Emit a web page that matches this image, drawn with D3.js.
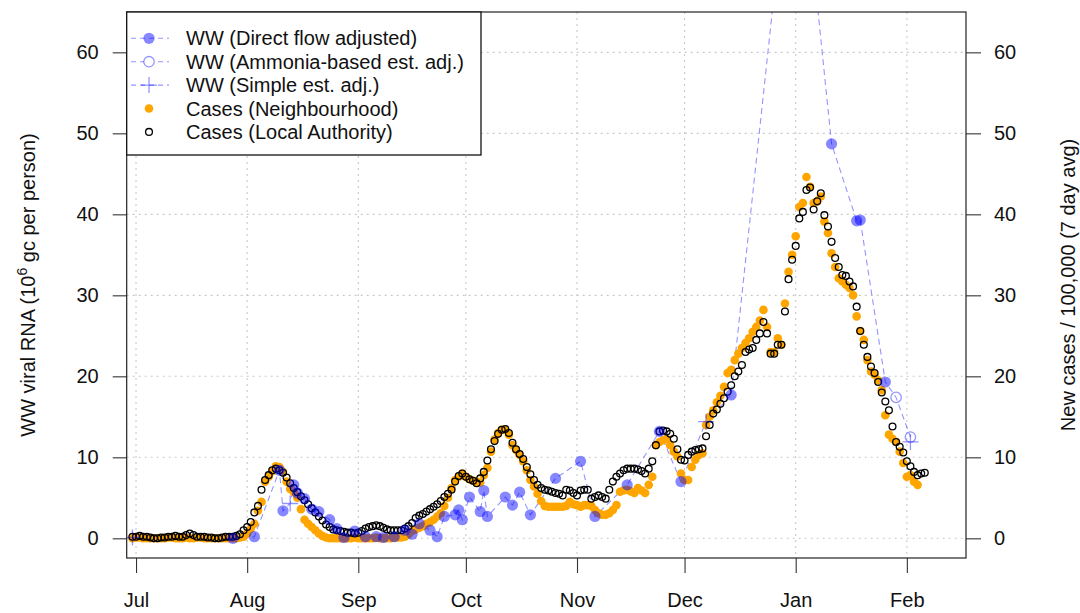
<!DOCTYPE html>
<html>
<head>
<meta charset="utf-8">
<script src="https://cdn.jsdelivr.net/npm/d3@7"></script>
<style>
  body { margin: 0; background: #fff; }
  svg { display: block; }
  text { font-family: "Liberation Sans", Arial, sans-serif; }
</style>
</head>
<body>
<svg id="chart" width="1080" height="613"></svg>
<script>
// ---- Data ---------------------------------------------------------------
// Daily case rates (new cases / 100,000, 7 day avg), first value on caseStart
const caseStart = "2021-06-30";

const casesLocalAuthority = [
  0.2,0.2,0.3,0.2,0.2,0.1,0.0,0.0,0.1,0.1,0.2,0.2,0.3,0.2,0.2,0.4,0.6,0.4,0.2,0.2,0.2,0.1,0.1,0.0,0.0,0.1,0.2,0.2,
  0.2,0.3,0.5,1.0,1.4,2.0,3.2,4.0,6.0,7.2,7.8,8.4,8.6,8.4,8.1,7.5,6.8,6.2,5.7,5.2,4.7,4.2,3.7,3.2,2.7,2.2,1.7,1.4,
  1.1,1.0,0.9,0.8,0.7,0.7,0.6,0.7,0.9,1.2,1.4,1.5,1.6,1.5,1.3,1.1,1.0,1.0,1.0,1.0,
  1.2,1.5,1.9,2.5,2.8,3.0,3.3,3.6,3.9,4.2,4.6,5.1,5.5,6.0,7.0,7.7,8.0,7.6,7.3,7.1,
  6.8,7.4,8.2,9.6,11.0,12.0,12.9,13.4,13.5,13.0,11.8,
  11.0,10.4,9.8,8.8,7.9,7.2,6.6,6.2,6.0,5.9,5.75,5.6,5.5,5.3,
  6.0,5.9,5.6,5.3,5.9,6.0,6.0,4.9,5.1,5.3,5.1,4.9,6.0,7.0,7.6,8.0,8.4,8.6,8.6,8.6,
  8.5,8.3,8.0,8.6,9.5,11.5,13.2,13.3,13.2,12.9,12.3,
  11.0,9.7,9.6,10.3,10.7,10.9,11.0,11.1,12.6,14.0,15.4,15.9,16.6,17.3,18.1,18.9,20.0,20.6,21.4,23.0,
  23.3,23.5,24.5,25.3,26.7,25.3,22.8,22.8,23.9,23.9,
  28.0,32.0,34.4,36.1,39.5,40.3,43.0,43.3,40.6,41.6,42.6,39.9,38.5,36.6,34.6,33.5,32.5,32.4,31.7,31.1,
  28.6,25.6,23.9,22.4,21.2,20.4,19.3,18.0,16.9,15.8,13.8,11.9,11.3,10.6,9.5,8.9,8.2,7.8,8.0,8.1
];

const casesNeighbourhood = [
  0,0.1,0.1,0,0,0,0,0,0,0,0.1,0.1,0,0,0,0.1,0,0,0.1,0.1,0,0,0,0,0,0,0,0,
  0,0,0.1,0.2,0.6,1.2,1.8,3.4,4.5,7.0,7.6,8.3,8.9,8.8,8.2,7.0,6.1,5.7,5.0,3.6,2.3,1.8,1.4,1.0,0.6,0.3,0.1,0.0,
  0,0,0,0,0,0,0.1,0,0,0,0,0,0.1,0,0,0,0,0.1,0.1,0.1,
  0.2,0.5,0.9,1.1,1.3,1.5,1.8,2.0,2.3,2.7,3.1,4.0,5.0,6.2,7.2,7.6,8.0,
  7.6,7.3,7.1,7.0,6.9,7.8,8.7,10.7,12.2,13.0,13.4,13.4,12.8,11.5,10.9,10.3,9.5,8.4,
  7.2,6.4,5.5,4.6,4.0,3.9,3.9,3.9,3.9,3.9,
  4.0,4.5,4.2,4.1,3.9,4.1,4.1,4.0,3.5,3.1,2.9,2.9,3.1,3.5,4.1,5.75,5.9,6.0,5.8,5.6,
  6.2,5.9,5.6,6.6,7.6,11.5,11.9,12.1,12.3,11.5,10.7,
  10.1,8.0,7.2,7.2,8.8,9.7,10.3,10.5,14.0,15.0,15.8,16.8,17.6,18.7,20.4,20.8,22.0,22.8,23.5,24.1,
  24.7,25.5,26.1,26.9,28.2,26.1,23.0,23.0,24.7,23.9,
  29.0,32.9,35.0,37.3,40.9,41.4,44.6,43.4,41.4,41.6,42.2,39.1,37.7,35.2,33.5,32.1,31.7,31.3,30.9,30.0,
  27.4,25.6,24.5,22.0,20.6,20.2,19.5,18.3,15.2,12.8,12.3,11.9,10.7,9.3,7.6,7.8,7.0,6.6
];

// Wastewater viral RNA (10^6 gc per person)
const wwDirectDates = [
  "2021-07-28","2021-08-03","2021-08-10","2021-08-11","2021-08-14","2021-08-15","2021-08-17","2021-08-19",
  "2021-08-21","2021-08-24","2021-08-26","2021-08-28","2021-08-31","2021-09-03","2021-09-06","2021-09-08",
  "2021-09-11","2021-09-14","2021-09-16","2021-09-18","2021-09-21","2021-09-23","2021-09-25","2021-09-28",
  "2021-09-29","2021-09-30","2021-10-02","2021-10-05","2021-10-06","2021-10-07","2021-10-12","2021-10-14",
  "2021-10-16","2021-10-19","2021-10-26","2021-11-02","2021-11-06","2021-11-15","2021-11-24","2021-11-30",
  "2021-12-14","2022-01-01","2022-01-11","2022-01-18","2022-01-19","2022-01-26"
];
const wwDirectValues = [
  0.0,0.2,8.4,3.4,6.6,5.6,4.9,3.6,
  3.3,2.3,1.2,0.1,0.9,0.2,0.2,0.1,
  0.2,1.0,0.5,1.8,1.0,0.2,2.7,2.9,
  3.5,2.3,5.1,3.3,5.9,2.7,5.1,4.1,
  5.7,2.9,7.4,9.5,2.7,6.6,13.2,7.0,
  17.7,92.0,48.7,39.2,39.3,19.3
];
const wwAmmoniaDates = ["2022-01-29","2022-02-02"];
const wwAmmoniaValues = [17.4, 12.5];
const wwSimpleDates = ["2021-06-30","2021-08-13","2021-12-07","2022-02-02"];
const wwSimpleValues = [0.1, 4.3, 14.4, 11.9];

// Axes
const monthTickDates = ["2021-07-01","2021-08-01","2021-09-01","2021-10-01","2021-11-01","2021-12-01","2022-01-01","2022-02-01"];
const monthTickLabels = ["Jul","Aug","Sep","Oct","Nov","Dec","Jan","Feb"];
const yTicks = [0, 10, 20, 30, 40, 50, 60];

const legendLabels = [
  "WW (Direct flow adjusted)",
  "WW (Ammonia-based est. adj.)",
  "WW (Simple est. adj.)",
  "Cases (Neighbourhood)",
  "Cases (Local Authority)"
];

// ---- Layout -------------------------------------------------------------
const plot = { left: 126.7, right: 966, top: 12, bottom: 558 };
const FONT = 20;
const BLUE_FILL = "rgba(0,0,255,0.47)";
const BLUE_LINE = "rgba(0,0,255,0.42)";
const ORANGE = "#FFA500";

const parse = d3.utcParse("%Y-%m-%d");
const dayMs = 864e5;
const jul1 = parse("2021-07-01");

const x = d3.scaleUtc()
  .domain([new Date(jul1.getTime() - 2.6 * dayMs), new Date(jul1.getTime() + 231.5 * dayMs)])
  .range([plot.left, plot.right]);
const y = d3.scaleLinear().domain([-2.43, 64.98]).range([plot.bottom, plot.top]);

const start = parse(caseStart);
const la = casesLocalAuthority.map((v, i) => ({ date: d3.utcDay.offset(start, i), value: v }));
const nb = casesNeighbourhood.map((v, i) => ({ date: d3.utcDay.offset(start, i), value: v }));
const wwDirect = wwDirectDates.map((d, i) => ({ date: parse(d), value: wwDirectValues[i] }));
const wwAmmonia = wwAmmoniaDates.map((d, i) => ({ date: parse(d), value: wwAmmoniaValues[i] }));
const wwSimple = wwSimpleDates.map((d, i) => ({ date: parse(d), value: wwSimpleValues[i] }));

// One dashed trace through the wastewater samples, preferring the direct flow estimate on shared dates
const seen = new Set();
const wwTrace = [...wwDirect, ...wwAmmonia, ...wwSimple]
  .filter(p => { const k = +p.date; if (seen.has(k)) return false; seen.add(k); return true; })
  .sort((a, b) => a.date - b.date);

const svg = d3.select("#chart");
svg.append("rect").attr("width", 1080).attr("height", 613).attr("fill", "#fff");

svg.append("defs").append("clipPath").attr("id", "plotClip")
  .append("rect")
  .attr("x", plot.left).attr("y", plot.top)
  .attr("width", plot.right - plot.left).attr("height", plot.bottom - plot.top);

// ---- Grid ---------------------------------------------------------------
const grid = svg.append("g").attr("stroke", "#c9c9c9").attr("stroke-width", 1.1).attr("stroke-dasharray", "2,4");
grid.selectAll("line.v").data(monthTickDates).join("line")
  .attr("x1", d => x(parse(d))).attr("x2", d => x(parse(d)))
  .attr("y1", plot.top).attr("y2", plot.bottom);
grid.selectAll("line.h").data(yTicks).join("line")
  .attr("x1", plot.left).attr("x2", plot.right)
  .attr("y1", d => y(d)).attr("y2", d => y(d));

// ---- Marks --------------------------------------------------------------
const marks = svg.append("g").attr("clip-path", "url(#plotClip)");

marks.append("path")
  .datum(wwTrace)
  .attr("fill", "none")
  .attr("stroke", BLUE_LINE)
  .attr("stroke-width", 1.1)
  .attr("stroke-dasharray", "6,4")
  .attr("d", d3.line().x(d => x(d.date)).y(d => y(d.value)));

marks.append("g").selectAll("circle").data(nb).join("circle")
  .attr("cx", d => x(d.date)).attr("cy", d => y(d.value)).attr("r", 4.3)
  .attr("fill", ORANGE);

marks.append("g").selectAll("circle").data(la).join("circle")
  .attr("cx", d => x(d.date)).attr("cy", d => y(d.value)).attr("r", 3.4)
  .attr("fill", "none").attr("stroke", "#000").attr("stroke-width", 1.3);

marks.append("g").selectAll("circle").data(wwDirect).join("circle")
  .attr("cx", d => x(d.date)).attr("cy", d => y(d.value)).attr("r", 5.6)
  .attr("fill", BLUE_FILL);

marks.append("g").selectAll("circle").data(wwAmmonia).join("circle")
  .attr("cx", d => x(d.date)).attr("cy", d => y(d.value)).attr("r", 5.2)
  .attr("fill", "none").attr("stroke", BLUE_LINE).attr("stroke-width", 1.3);

marks.append("g").selectAll("path").data(wwSimple).join("path")
  .attr("transform", d => `translate(${x(d.date)},${y(d.value)})`)
  .attr("d", "M-8,0H8M0,-8V8")
  .attr("stroke", BLUE_LINE).attr("stroke-width", 1.3).attr("fill", "none");

// ---- Axes ---------------------------------------------------------------
function styleAxis(g) {
  g.select(".domain").remove();
  g.selectAll(".tick line").attr("stroke", "#333").attr("stroke-width", 1.1);
  g.selectAll(".tick text").attr("fill", "#111").style("font-size", FONT + "px")
    .style("font-family", '"Liberation Sans", Arial, sans-serif');
}

svg.append("g").attr("transform", `translate(${plot.left},0)`)
  .call(d3.axisLeft(y).tickValues(yTicks).tickSize(14).tickPadding(14))
  .call(styleAxis);

svg.append("g").attr("transform", `translate(${plot.right},0)`)
  .call(d3.axisRight(y).tickValues(yTicks).tickSize(15).tickPadding(13))
  .call(styleAxis);

svg.append("g").attr("transform", `translate(0,${plot.bottom})`)
  .call(d3.axisBottom(x).tickValues(monthTickDates.map(parse))
    .tickFormat((d, i) => monthTickLabels[i]).tickSize(15).tickPadding(20))
  .call(styleAxis);

// Plot frame
svg.append("rect")
  .attr("x", plot.left).attr("y", plot.top)
  .attr("width", plot.right - plot.left).attr("height", plot.bottom - plot.top)
  .attr("fill", "none").attr("stroke", "#222").attr("stroke-width", 1.2);

// Axis titles
const midY = (plot.top + plot.bottom) / 2;
const leftTitle = svg.append("text")
  .attr("transform", `translate(35,${midY}) rotate(-90)`)
  .attr("text-anchor", "middle")
  .style("font-size", FONT + "px").attr("fill", "#111");
leftTitle.append("tspan").text("WW viral RNA (10");
leftTitle.append("tspan").attr("dy", -8).style("font-size", "14px").text("6");
leftTitle.append("tspan").attr("dy", 8).text(" gc per person)");

svg.append("text")
  .attr("transform", `translate(1075,${midY}) rotate(-90)`)
  .attr("text-anchor", "middle")
  .style("font-size", FONT + "px").attr("fill", "#111")
  .text("New cases / 100,000 (7 day avg)");

// ---- Legend -------------------------------------------------------------
const legend = svg.append("g");
legend.append("rect")
  .attr("x", plot.left).attr("y", plot.top)
  .attr("width", 481 - plot.left).attr("height", 155 - plot.top)
  .attr("fill", "#fff").attr("stroke", "#111").attr("stroke-width", 1.3);

const rowY = i => 38.3 + i * 23.4;
const symX = 149;
legend.selectAll("text").data(legendLabels).join("text")
  .attr("x", 186).attr("y", (d, i) => rowY(i) + 7)
  .style("font-size", FONT + "px").attr("fill", "#111")
  .text(d => d);

[0, 1, 2].forEach(i => {
  legend.append("line")
    .attr("x1", 131).attr("x2", 169).attr("y1", rowY(i)).attr("y2", rowY(i))
    .attr("stroke", BLUE_LINE).attr("stroke-width", 1.1).attr("stroke-dasharray", "5,4");
});
legend.append("circle").attr("cx", symX).attr("cy", rowY(0)).attr("r", 5.6).attr("fill", BLUE_FILL);
legend.append("circle").attr("cx", symX).attr("cy", rowY(1)).attr("r", 5.2)
  .attr("fill", "#fff").attr("stroke", BLUE_LINE).attr("stroke-width", 1.3);
legend.append("path").attr("transform", `translate(${symX},${rowY(2)})`)
  .attr("d", "M-8,0H8M0,-8V8").attr("stroke", BLUE_LINE).attr("stroke-width", 1.3);
legend.append("circle").attr("cx", symX).attr("cy", rowY(3)).attr("r", 4.3).attr("fill", ORANGE);
legend.append("circle").attr("cx", symX).attr("cy", rowY(4)).attr("r", 3.4)
  .attr("fill", "none").attr("stroke", "#000").attr("stroke-width", 1.3);
</script>
</body>
</html>
